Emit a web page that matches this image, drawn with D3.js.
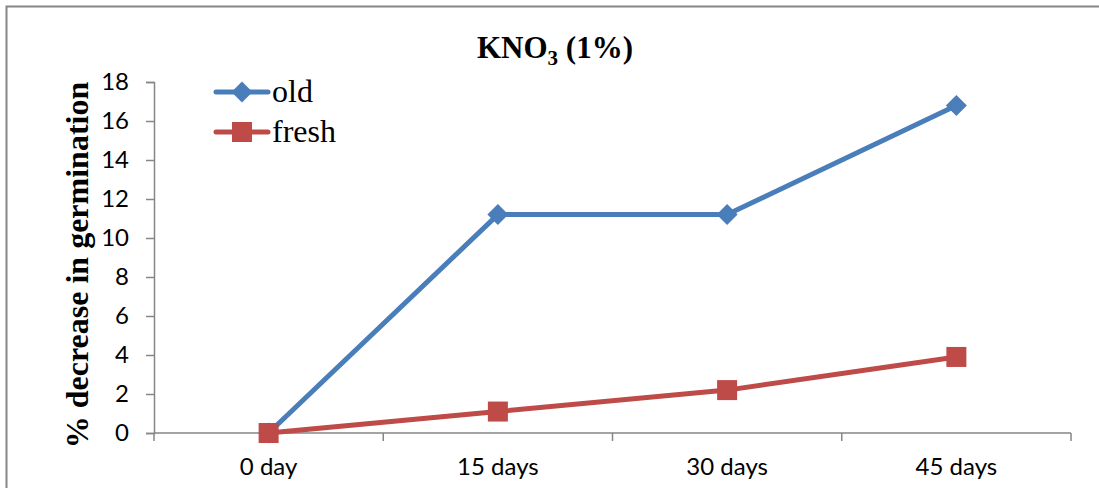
<!DOCTYPE html>
<html>
<head>
<meta charset="utf-8">
<script src="https://cdn.jsdelivr.net/npm/d3@7"></script>
<style>
  body { margin: 0; background: #fff; }
  #main { width: 1099px; height: 488px; }
</style>
</head>
<body>
<div id="main"></div>
<script>
const categories = ["0 day", "15 days", "30 days", "45 days"];
const oldValues = [0, 11.2, 11.2, 16.8];
const freshValues = [0, 1.1, 2.2, 3.9];
const yTicks = [0, 2, 4, 6, 8, 10, 12, 14, 16, 18];

function createChart() {
    const width = 1099, height = 488;
    const svg = d3.select("#main").append("svg")
        .attr("width", width)
        .attr("height", height);

    // outer chart border (right and bottom fall off the picture)
    svg.append("rect")
        .attr("x", 6.5).attr("y", 6.5)
        .attr("width", 1200).attr("height", 600)
        .attr("fill", "none")
        .attr("stroke", "#868686")
        .attr("stroke-width", 2);

    const x = d3.scaleBand().domain(categories).range([154, 1071]);
    const y = d3.scaleLinear().domain([0, 18]).range([433, 82]);

    const axisColor = "#868686";

    // y axis
    const yAxis = svg.append("g")
        .attr("transform", "translate(154,0)")
        .call(d3.axisLeft(y).tickValues(yTicks).tickSize(8).tickPadding(17));
    yAxis.select(".domain").attr("stroke", axisColor).attr("stroke-width", 1.5);
    yAxis.selectAll(".tick line").attr("stroke", axisColor).attr("stroke-width", 1.5);
    yAxis.selectAll("text")
        .attr("fill", "#000")
        .style("font-family", "Lato, 'Open Sans', sans-serif")
        .style("font-size", "24px");

    // x axis: ticks on band edges
    const xAxisG = svg.append("g").attr("transform", "translate(0,433)");
    xAxisG.append("line")
        .attr("x1", 154).attr("x2", 1071)
        .attr("stroke", axisColor).attr("stroke-width", 1.5);
    const edges = categories.map(c => x(c)).concat([x.range()[1]]);
    xAxisG.selectAll(".edge").data(edges).join("line")
        .attr("x1", d => d).attr("x2", d => d)
        .attr("y1", 0).attr("y2", 8)
        .attr("stroke", axisColor).attr("stroke-width", 1.5);
    xAxisG.selectAll(".lab").data(categories).join("text")
        .attr("x", d => x(d) + x.bandwidth() / 2)
        .attr("y", 42)
        .attr("text-anchor", "middle")
        .style("font-family", "Lato, 'Open Sans', sans-serif")
        .style("font-size", "24px")
        .text(d => d);

    const cx = d => x(d) + x.bandwidth() / 2;
    const line = d3.line().x(d => cx(d.c)).y(d => y(d.v));

    const oldData = categories.map((c, i) => ({c: c, v: oldValues[i]}));
    const freshData = categories.map((c, i) => ({c: c, v: freshValues[i]}));

    const blue = "#4a7ebb", red = "#be4b48";

    svg.append("path").datum(oldData)
        .attr("d", line).attr("fill", "none")
        .attr("stroke", blue).attr("stroke-width", 5).attr("stroke-linejoin", "round");
    svg.selectAll(".dia").data(oldData).join("path")
        .attr("d", d3.symbol(d3.symbolSquare, 220)())
        .attr("transform", d => `translate(${cx(d.c)},${y(d.v)}) rotate(45)`)
        .attr("fill", blue);

    svg.append("path").datum(freshData)
        .attr("d", line).attr("fill", "none")
        .attr("stroke", red).attr("stroke-width", 5).attr("stroke-linejoin", "round");
    svg.selectAll(".sq").data(freshData).join("rect")
        .attr("x", d => cx(d.c) - 10).attr("y", d => y(d.v) - 10)
        .attr("width", 20).attr("height", 20)
        .attr("fill", red);

    // title
    const title = svg.append("text")
        .attr("x", 555).attr("y", 58)
        .attr("text-anchor", "middle")
        .style("font-family", "'Liberation Serif', 'Times New Roman', serif")
        .style("font-weight", "bold")
        .style("font-size", "31px");
    title.append("tspan").text("KNO");
    title.append("tspan").attr("dy", 7).style("font-size", "21px").text("3");
    title.append("tspan").attr("dy", -7).text(" (1%)");

    // y label
    svg.append("text")
        .attr("transform", "translate(88,265) rotate(-90)")
        .attr("text-anchor", "middle")
        .style("font-family", "'Liberation Serif', 'Times New Roman', serif")
        .style("font-weight", "bold")
        .style("font-size", "32px")
        .text("% decrease in germination");

    // legend
    const legend = [
        {name: "old", color: blue, shape: "diamond", y: 92},
        {name: "fresh", color: red, shape: "square", y: 132}
    ];
    const lg = svg.append("g");
    legend.forEach(l => {
        lg.append("line")
            .attr("x1", 216).attr("x2", 268)
            .attr("y1", l.y).attr("y2", l.y)
            .attr("stroke", l.color).attr("stroke-width", 5).attr("stroke-linecap", "round");
        if (l.shape === "diamond") {
            lg.append("path")
                .attr("d", d3.symbol(d3.symbolSquare, 220)())
                .attr("transform", `translate(242,${l.y}) rotate(45)`)
                .attr("fill", l.color);
        } else {
            lg.append("rect")
                .attr("x", 232).attr("y", l.y - 10)
                .attr("width", 20).attr("height", 20)
                .attr("fill", l.color);
        }
        lg.append("text")
            .attr("x", 272).attr("y", l.y + 10)
            .style("font-family", "'Liberation Serif', 'Times New Roman', serif")
            .style("font-size", "32px")
            .text(l.name);
    });
}

document.addEventListener("DOMContentLoaded", createChart);
</script>
</body>
</html>
